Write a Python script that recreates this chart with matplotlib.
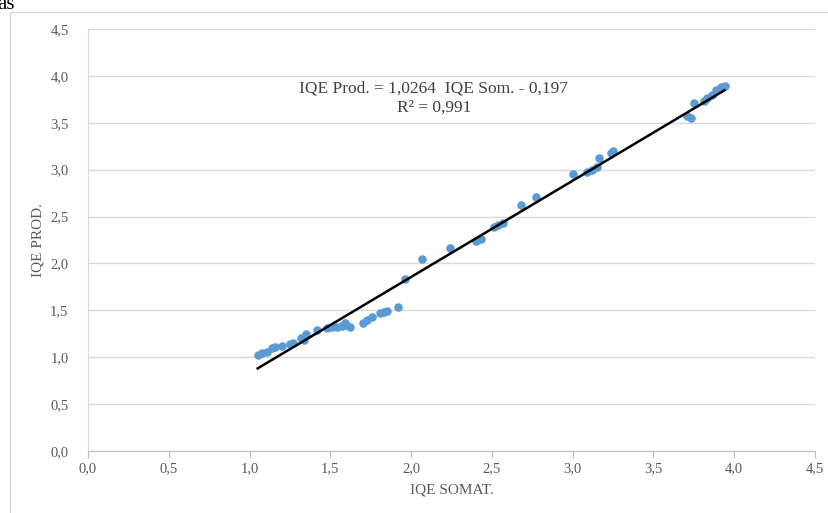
import matplotlib
matplotlib.use("Agg")
import matplotlib.pyplot as plt
from matplotlib import ticker
from matplotlib.patches import Rectangle
import numpy as np

# Data
iqe_somat = [1.05, 1.08, 1.11, 1.14, 1.16, 1.20, 1.25, 1.27, 1.32, 1.34, 1.35,
             1.42, 1.48, 1.51, 1.54, 1.57, 1.59, 1.60, 1.62, 1.70, 1.73, 1.76,
             1.81, 1.83, 1.85, 1.92, 1.96, 2.07, 2.24, 2.40, 2.43, 2.51, 2.54,
             2.57, 2.68, 2.77, 3.00, 3.09, 3.12, 3.15, 3.16, 3.24, 3.25, 3.71,
             3.73, 3.75, 3.81, 3.83, 3.86, 3.89, 3.92, 3.94]
iqe_prod = [1.02, 1.04, 1.06, 1.10, 1.11, 1.12, 1.14, 1.15, 1.20, 1.18, 1.25,
            1.29, 1.31, 1.32, 1.32, 1.33, 1.37, 1.34, 1.32, 1.37, 1.40, 1.43,
            1.47, 1.48, 1.49, 1.54, 1.83, 2.05, 2.17, 2.24, 2.26, 2.39, 2.41,
            2.43, 2.62, 2.71, 2.95, 2.97, 3.00, 3.03, 3.12, 3.18, 3.20, 3.57,
            3.55, 3.71, 3.73, 3.76, 3.80, 3.85, 3.88, 3.89]
slope = 1.0264
intercept = -0.197
r2 = 0.991
ticks = np.arange(0, 4.51, 0.5)

plt.rcParams['font.family'] = ['Liberation Serif', 'DejaVu Serif']

fig = plt.figure(figsize=(8.29, 5.13), dpi=100)
ax = fig.add_axes([88 / 829, 62 / 513, 727 / 829, 422 / 513])

# chart frame (partly cut off in the reference)
fig.patches.append(Rectangle((10 / 829, -0.1), 1.1, 0.1 + (513 - 12) / 513,
                             transform=fig.transFigure, fill=False,
                             edgecolor='#d9d9d9', linewidth=1.0))
fig.text(-0.003, 1 - 9 / 513, "as", fontsize=15, color='black', va='baseline')

ax.scatter(iqe_somat, iqe_prod, s=38, color='#5b9bd5', zorder=3, linewidths=0)
xs = np.array([min(iqe_somat), max(iqe_somat)])
ax.plot(xs, slope * xs + intercept, color='black', linewidth=1.8, zorder=4)

ax.set_xlim(0, 4.5)
ax.set_ylim(0, 4.5)
ax.set_xticks(ticks)
ax.set_yticks(ticks)
fmt = ticker.FuncFormatter(lambda v, p: f"{v:.1f}".replace('.', ','))
ax.xaxis.set_major_formatter(fmt)
ax.yaxis.set_major_formatter(fmt)
ax.tick_params(axis='x', length=5, color='#bfbfbf', labelsize=10.5,
               labelcolor='#595959', pad=3)
ax.tick_params(axis='y', length=0, labelsize=10.5, labelcolor='#595959', pad=14)
ax.grid(axis='y', color='#d9d9d9', linewidth=1.0)
ax.set_axisbelow(True)
for s in ['top', 'right']:
    ax.spines[s].set_visible(False)
ax.spines['left'].set_color('#d9d9d9')
ax.spines['bottom'].set_color('#bfbfbf')

ax.set_xlabel("IQE SOMAT.", fontsize=11, color='#595959', labelpad=6)
ax.set_ylabel("IQE PROD.", fontsize=11, color='#595959', labelpad=4)

eq = f"IQE Prod. = {slope:.4f}  IQE Som. - {abs(intercept):.3f}".replace('.', ',')
eq = eq.replace('Prod,', 'Prod.').replace('Som,', 'Som.')
ax.text(2.14, 3.87, eq, ha='center', va='center', fontsize=12.5, color='#404040')
ax.text(2.14, 3.66, f"R² = {r2:.3f}".replace('.', ','), ha='center',
        va='center', fontsize=12.5, color='#404040')

fig.savefig('out.png', dpi=100)
